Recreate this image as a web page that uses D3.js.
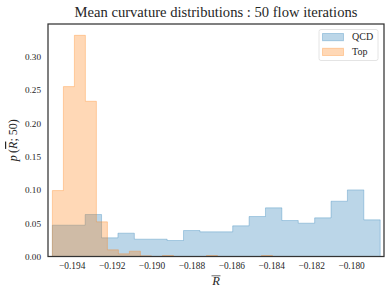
<!DOCTYPE html>
<html><head><meta charset="utf-8">
<script src="https://cdn.jsdelivr.net/npm/d3@7"></script>
<style>
body{margin:0;background:#fff;}
text{font-family:"Liberation Serif","Times New Roman",serif;fill:#262626;}
</style></head>
<body><svg id="c" width="390" height="294"></svg>
<script>
const title = "Mean curvature distributions : 50 flow iterations";
const seriesNames = ["QCD", "Top"];
const qcdRange = [-0.19497, -0.17854];
const qcdValues = [0.047, 0.047, 0.063, 0.028, 0.035, 0.026, 0.026, 0.024, 0.039, 0.037,
                   0.037, 0.046, 0.060, 0.073, 0.054, 0.050, 0.058, 0.083, 0.100, 0.055];
const topRange = [-0.19497, -0.18394];
const topValues = [0.099, 0.255, 0.332, 0.233, 0.052, 0.010, 0.004, 0.008, 0.001, 0.0,
                   0.0015, 0.0, 0.0, 0.0, 0.0015, 0.0, 0.0, 0.0, 0.0, 0.0015];
const xTicks = [-0.194, -0.192, -0.190, -0.188, -0.186, -0.184, -0.182, -0.180];
const yTicks = [0.00, 0.05, 0.10, 0.15, 0.20, 0.25, 0.30];
const xDomain = [-0.19519, -0.17835];
const yDomain = [0, 0.349];

const svg = d3.select("#c");
const m = {l:48, r:384, t:24, b:256.5};
const x = d3.scaleLinear().domain(xDomain).range([m.l, m.r]);
const y = d3.scaleLinear().domain(yDomain).range([m.b, m.t]);

function stepPath(range, vals){
  const n = vals.length, w = (range[1]-range[0])/n;
  const pts = [[range[0], 0]];
  vals.forEach((v,i)=>{ pts.push([range[0]+i*w, v]); pts.push([range[0]+(i+1)*w, v]); });
  pts.push([range[1], 0]);
  return d3.line().x(d=>x(d[0])).y(d=>y(d[1]))(pts) + "Z";
}
const colors = ["#1f77b4", "#ff7f0e"];
const g = svg.append("g");
[[qcdRange, qcdValues], [topRange, topValues]].forEach((s,i)=>{
  g.append("path").attr("d", stepPath(s[0], s[1]))
   .attr("fill", colors[i]).attr("fill-opacity", 0.3)
   .attr("stroke", colors[i]).attr("stroke-opacity", 0.3).attr("stroke-width", 1)
   .attr("stroke-linejoin","miter");
});

// frame
svg.append("rect").attr("x", m.l).attr("y", m.t).attr("width", m.r-m.l).attr("height", m.b-m.t)
  .attr("fill","none").attr("stroke","#333").attr("stroke-width",1.25);

// axes ticks labels
const xa = svg.append("g").attr("transform",`translate(0,${m.b})`)
  .call(d3.axisBottom(x).tickValues(xTicks).tickSize(0).tickPadding(6)
    .tickFormat(d=>"\u2212"+Math.abs(d).toFixed(3)));
xa.select(".domain").remove();
xa.selectAll("text").attr("font-size", 9.4).attr("font-family", null).attr("fill","#262626");
const ya = svg.append("g").attr("transform",`translate(${m.l},0)`)
  .call(d3.axisLeft(y).tickValues(yTicks).tickSize(0).tickPadding(7).tickFormat(d3.format(".2f")));
ya.select(".domain").remove();
ya.selectAll("text").attr("font-size", 9.2).attr("font-family", null).attr("fill","#262626");

// title
svg.append("text").attr("x", (m.l+m.r)/2).attr("y", 17).attr("text-anchor","middle")
  .attr("font-size", 14.6).text(title);

// x label
svg.append("text").attr("x", (m.l+m.r)/2).attr("y", 285).attr("text-anchor","middle")
  .attr("font-size", 12.5).attr("font-style","italic").text("R");
svg.append("line").attr("x1", (m.l+m.r)/2-4.5).attr("x2",(m.l+m.r)/2+4.5)
  .attr("y1", 275.8).attr("y2", 275.8).attr("stroke","#262626").attr("stroke-width",0.7);

// y label
const yl = svg.append("g").attr("transform", `translate(17,${(m.t+m.b)/2}) rotate(-90)`);
const yt = yl.append("text").attr("text-anchor","middle").attr("font-size", 12);
yt.append("tspan").attr("font-style","italic").text("p");
yt.append("tspan").text("\u2009(");
yt.append("tspan").attr("font-style","italic").attr("text-decoration","overline").text("R");
yt.append("tspan").text("; 50)");

// legend
const lg = svg.append("g");
lg.append("rect").attr("x",319).attr("y",29.5).attr("width",59).attr("height",31).attr("rx",2)
  .attr("fill","#fff").attr("fill-opacity",0.8).attr("stroke","#ddd").attr("stroke-width",0.8);
seriesNames.forEach((nm,i)=>{
  lg.append("rect").attr("x",322.5).attr("y",33.5+i*14.8).attr("width",21).attr("height",7.2)
    .attr("fill",colors[i]).attr("fill-opacity",0.3).attr("stroke",colors[i]).attr("stroke-opacity",0.3);
  lg.append("text").attr("x",352).attr("y",39.8+i*14.8).attr("font-size",10).text(nm);
});
</script></body></html>
